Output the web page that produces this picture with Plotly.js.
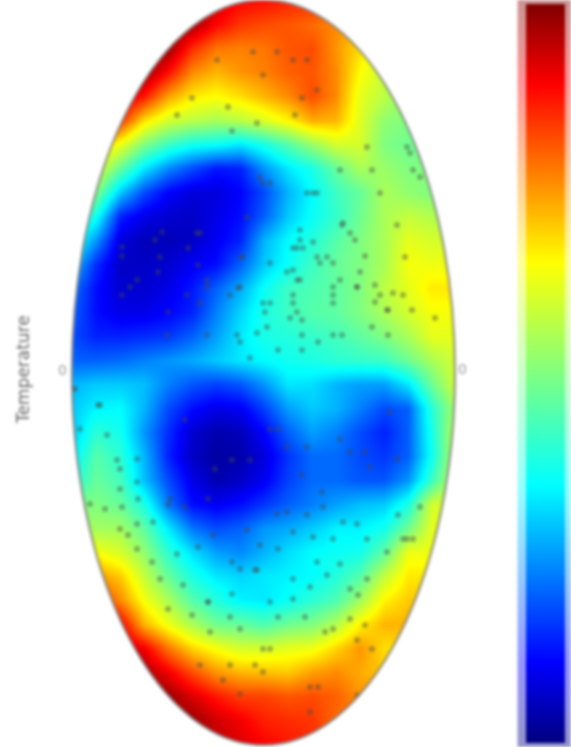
<!DOCTYPE html>
<html>
<head>
<meta charset="utf-8">
<script src="https://cdn.plot.ly/plotly-3.0.1.min.js"></script>
<style>
  html, body { margin: 0; padding: 0; background: #fff; overflow: hidden; }
  #PlotDiv { width: 571px; height: 747px; filter: blur(1.5px); }
</style>
</head>
<body>
<div id="PlotDiv"></div>
<script>
// jet, same stops as the bar in the picture
var JetScale = [
  [0, '#000080'], [0.11, '#0000ff'], [0.35, '#00ffff'], [0.5, '#80ff80'],
  [0.65, '#ffff00'], [0.89, '#ff0000'], [1, '#800000']
];

// map is read on a coarse grid in page pixels, values are 0..1 along the bar
var mapX = [72, 96, 120, 144, 168, 192, 216, 240, 264, 288, 312, 336, 360, 384, 408, 432, 456];
var mapY = [0, 24, 48, 72, 96, 120, 144, 168, 192, 216, 240, 264, 288, 312, 336, 360,
  384, 408, 432, 456, 480, 504, 528, 552, 576, 600, 624, 648, 672, 696, 720, 744];
var mapZ = [
  [.95, .95, .95, .95, .95, .95, .93, .89, .88, .86, .85, .82, .82, .82, .82, .82, .82],
  [.98, .98, .98, .98, .98, .97, .89, .84, .82, .81, .79, .76, .72, .70, .70, .70, .70],
  [.98, .98, .98, .98, .98, .85, .78, .77, .78, .81, .82, .75, .68, .60, .60, .60, .60],
  [.98, .98, .98, .98, .88, .76, .72, .75, .77, .80, .81, .76, .65, .58, .55, .55, .55],
  [.98, .98, .95, .87, .74, .67, .65, .68, .72, .76, .82, .76, .62, .57, .52, .52, .52],
  [.95, .95, .85, .68, .60, .57, .55, .57, .61, .66, .73, .72, .61, .52, .50, .50, .50],
  [.75, .72, .63, .50, .42, .37, .36, .33, .38, .45, .53, .60, .60, .50, .48, .48, .48],
  [.70, .62, .47, .33, .24, .18, .13, .14, .25, .33, .38, .47, .55, .53, .50, .50, .50],
  [.55, .50, .30, .18, .11, .08, .08, .11, .18, .28, .35, .42, .47, .55, .52, .50, .50],
  [.45, .37, .14, .09, .07, .06, .09, .12, .20, .30, .36, .41, .48, .55, .58, .56, .56],
  [.40, .25, .08, .05, .05, .06, .10, .14, .28, .35, .39, .45, .50, .55, .62, .60, .60],
  [.30, .15, .06, .06, .07, .10, .12, .20, .30, .36, .42, .47, .50, .55, .64, .63, .63],
  [.22, .12, .07, .07, .09, .13, .20, .27, .36, .42, .44, .46, .50, .57, .62, .67, .67],
  [.20, .12, .09, .09, .11, .14, .23, .31, .38, .42, .45, .46, .50, .55, .60, .64, .64],
  [.18, .14, .14, .15, .16, .20, .26, .33, .38, .39, .41, .43, .46, .50, .55, .62, .62],
  [.20, .20, .21, .23, .25, .27, .30, .33, .35, .37, .38, .40, .41, .42, .48, .55, .60],
  [.28, .30, .30, .29, .23, .19, .17, .19, .25, .33, .32, .28, .26, .26, .33, .48, .60],
  [.30, .34, .35, .28, .18, .12, .09, .10, .17, .26, .30, .28, .23, .18, .20, .40, .55],
  [.30, .40, .37, .25, .15, .07, .04, .05, .11, .20, .26, .23, .18, .14, .20, .38, .58],
  [.33, .45, .40, .28, .14, .06, .03, .04, .08, .16, .21, .21, .18, .16, .20, .37, .58],
  [.38, .47, .43, .29, .18, .09, .04, .06, .10, .17, .21, .21, .19, .19, .25, .42, .60],
  [.50, .50, .47, .38, .22, .12, .10, .12, .16, .20, .23, .26, .29, .30, .38, .60, .60],
  [.54, .54, .54, .46, .33, .22, .18, .20, .25, .27, .30, .34, .34, .37, .48, .62, .62],
  [.64, .64, .60, .52, .40, .32, .26, .24, .28, .32, .35, .36, .37, .46, .63, .63, .63],
  [.75, .75, .70, .58, .47, .38, .33, .31, .33, .34, .35, .39, .45, .58, .67, .67, .67],
  [.85, .85, .76, .64, .55, .45, .39, .34, .33, .36, .40, .44, .54, .66, .70, .70, .70],
  [.95, .95, .90, .72, .63, .55, .48, .47, .44, .48, .50, .56, .66, .72, .72, .72, .72],
  [.98, .98, .95, .90, .78, .69, .64, .60, .60, .62, .63, .69, .75, .68, .68, .68, .68],
  [.98, .98, .98, .97, .90, .82, .75, .72, .71, .70, .74, .76, .73, .70, .70, .70, .70],
  [.98, .98, .98, .98, .98, .92, .87, .83, .83, .81, .82, .80, .75, .75, .75, .75, .75],
  [.98, .98, .98, .98, .98, .98, .93, .90, .86, .85, .84, .79, .79, .79, .79, .79, .79],
  [.98, .98, .98, .98, .98, .98, .95, .92, .89, .87, .85, .85, .85, .85, .85, .85, .85]
];

// dark specks, page pixels
var speckX = [217, 263, 253, 277, 293, 307, 302, 228, 177, 192, 232, 257, 295, 317, 263, 313, 342, 300, 297, 365,
  320, 297, 238, 333, 333, 263, 293, 387, 435, 302, 240, 318, 278, 302, 250, 168, 130, 158, 122, 162,
  242, 270, 207, 403, 413, 420, 372, 405, 380, 397, 340, 410, 367, 375, 357, 313, 247, 197,
  75, 98, 185, 278, 270, 287, 307, 250, 232, 215, 370, 365, 350, 302, 322, 170, 185, 208, 247, 333,
  137, 128, 105, 122, 255, 317, 293, 278, 208, 270, 263, 365, 325, 357, 372, 200, 230, 255, 263, 223,
  240, 310, 318, 310, 357, 403, 420, 390, 340, 397, 357, 398,
  260, 270, 307, 317, 407, 343, 350, 300, 293, 303, 355, 317, 327, 333, 293, 300, 287, 360, 340, 357,
  333, 380, 375, 393, 412, 388, 265, 270, 293, 297, 290, 267, 257, 302, 372, 342, 333, 388, 237, 207,
  167, 242, 240, 230, 207, 187, 200, 137, 122, 122, 155, 188, 160, 200, 198,
  73, 100, 137, 117, 120, 107, 80, 137, 120, 138, 90, 153, 168, 120, 137, 177, 152, 160, 183, 208,
  232, 168, 192, 230, 270, 257, 240, 198, 232, 260, 213, 278, 293, 313, 307, 287, 277, 323, 343, 367,
  340, 350, 310, 293, 327, 367, 387, 407, 413, 358, 350, 305, 210, 333, 240];
var speckY = [60, 75, 52, 52, 60, 60, 98, 107, 115, 98, 131, 123, 115, 90, 183, 193, 225, 240, 248, 256,
  263, 280, 288, 295, 303, 303, 295, 310, 318, 335, 342, 342, 350, 350, 358, 312, 287, 272, 256, 232,
  257, 263, 287, 295, 170, 177, 170, 257, 193, 225, 170, 153, 147, 285, 287, 242, 217, 233,
  389, 405, 420, 429, 429, 447, 447, 460, 460, 469, 467, 452, 452, 475, 492, 499, 507, 499, 530, 539,
  524, 535, 509, 507, 570, 562, 579, 617, 602, 649, 649, 625, 632, 640, 649, 665, 665, 665, 672, 680,
  694, 687, 687, 712, 695, 539, 507, 412, 439, 459, 524, 515,
  177, 183, 193, 193, 147, 223, 233, 230, 248, 248, 240, 257, 257, 263, 270, 280, 272, 272, 280, 287,
  287, 295, 302, 293, 310, 310, 312, 303, 303, 312, 318, 327, 333, 320, 327, 335, 335, 335, 335, 335,
  335, 257, 287, 295, 280, 295, 303, 280, 295, 247, 240, 248, 257, 233, 265,
  389, 405, 459, 460, 469, 435, 429, 482, 489, 499, 504, 522, 505, 529, 549, 554, 562, 579, 585, 602,
  594, 609, 615, 617, 602, 570, 569, 547, 562, 545, 535, 549, 532, 537, 515, 512, 514, 507, 522, 539,
  564, 589, 587, 599, 575, 579, 552, 539, 539, 595, 619, 617, 632, 629, 629];

var tickLabels = ['0', '0'];
var tickX = [62, 462];
var tickY = [370, 369];
var sideTitle = 'Temperature';

// ellipse of the projection
var EX = 263.5, EY = 372.5, RX = 191.5, RY = 372.5;

var maskPath = 'M0,-20 L506,-20 L506,767 L0,767 Z M';
var pts = [];
for (i = 0; i <= 180; i++) {
  var a = i / 180 * 2 * Math.PI;
  pts.push((EX + RX * Math.cos(a)).toFixed(1) + ',' + (EY + RY * Math.sin(a)).toFixed(1));
}
maskPath += pts.join(' L') + ' Z';

// the pale band round the colour bar
var barLevels = [], barZ = [];
for (i = 0; i <= 64; i++) {
  barLevels.push(747 - i / 64 * 747);
  barZ.push([i / 64, i / 64]);
}

var plotdata = [
  {
    type: 'heatmap', x: mapX, y: mapY, z: mapZ,
    zmin: 0, zmax: 1, zsmooth: 'best', colorscale: JetScale, hoverinfo: 'skip',
    colorbar: {
      x: 526 / 571, xanchor: 'left', y: 0.5, yanchor: 'middle',
      len: 1, thickness: 39, thicknessmode: 'pixels', xpad: 0, ypad: 4,
      outlinewidth: 0, ticks: '', showticklabels: false
    }
  },
  {
    type: 'heatmap', x: [531, 558], y: barLevels, z: barZ,
    zmin: 0, zmax: 1, zsmooth: 'best', colorscale: JetScale, showscale: false,
    opacity: 0.42, hoverinfo: 'skip'
  },
  {
    type: 'scatter', mode: 'markers', x: speckX, y: speckY,
    marker: { size: 6, color: 'rgba(70,75,70,0.42)' }, hoverinfo: 'skip'
  }
];

var annots = [{
  x: 23, y: 370, xref: 'x', yref: 'y', text: sideTitle, textangle: -90, showarrow: false,
  font: { family: 'DejaVu Sans', size: 17, color: '#666' }
}];
for (i = 0; i < tickLabels.length; i++) {
  annots.push({
    x: tickX[i], y: tickY[i], xref: 'x', yref: 'y', text: tickLabels[i], showarrow: false,
    font: { family: 'DejaVu Sans', size: 14, color: '#999' }
  });
}

var layout = {
  width: 571,
  height: 747,
  margin: { l: 0, r: 0, t: 0, b: 0 },
  paper_bgcolor: '#fff',
  plot_bgcolor: '#fff',
  showlegend: false,
  xaxis: { range: [0, 571], visible: false, fixedrange: true },
  yaxis: { range: [747, 0], visible: false, fixedrange: true },
  shapes: [
    {
      type: 'path', path: maskPath, fillcolor: '#fff', fillrule: 'evenodd',
      line: { width: 0 }, layer: 'above', xref: 'x', yref: 'y'
    },
    {
      type: 'circle', x0: EX - RX, x1: EX + RX, y0: EY - RY, y1: EY + RY,
      line: { color: 'rgba(120,120,120,0.6)', width: 3 }, layer: 'above', xref: 'x', yref: 'y'
    }
  ],
  annotations: annots
};

Plotly.newPlot('PlotDiv', plotdata, layout, { displayModeBar: false, staticPlot: true });
</script>
</body>
</html>
